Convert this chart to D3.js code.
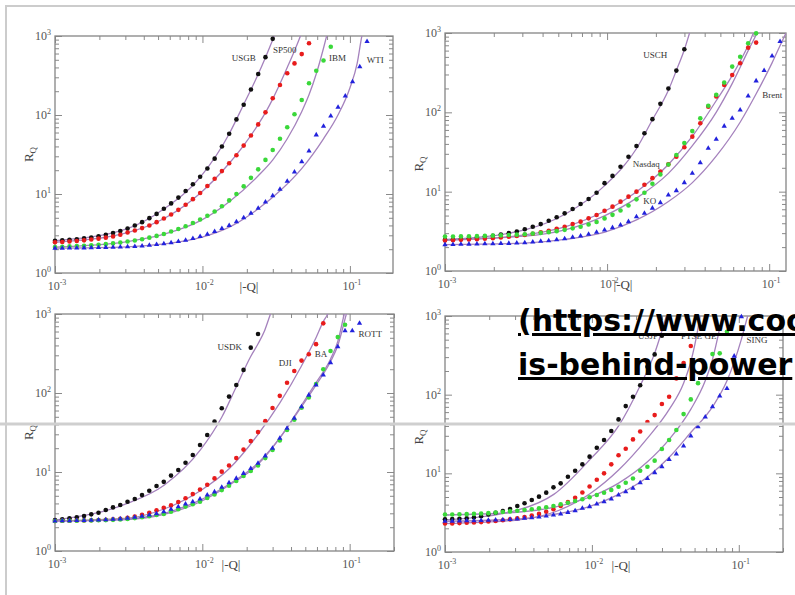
<!DOCTYPE html>
<html>
<head>
<meta charset="utf-8">
<script src="https://cdn.jsdelivr.net/npm/d3@7"></script>
<style>
  body { margin:0; background:#fff; overflow:hidden; }
  svg { display:block; }
</style>
</head>
<body>
<div id="chart"></div>
<script>
// |-Q| grid shared by all series (ratio 1.12 between points)
var xs = [0.001,0.00112,0.001254,0.001405,0.001574,0.001762,0.001974,0.002211,0.002476,0.002773,
  0.003106,0.003479,0.003896,0.004364,0.004887,0.005474,0.00613,0.006866,0.00769,0.008613,
  0.009646,0.0108,0.0121,0.01355,0.01518,0.017,0.01904,0.02132,0.02388,0.02675,
  0.02996,0.03356,0.03758,0.04209,0.04714,0.0528,0.05914,0.06623,0.07418,0.08308,
  0.09305,0.1042,0.1167,0.1307];

// top left
var usgb = [2.56,2.59,2.63,2.68,2.74,2.82,2.92,3.05,3.2,3.4,3.65,4.0,4.4,4.95,5.6,6.5,7.6,9.0,10.9,13.3,16.5,21,28,40,58,88,135,210,330,540,920];
var sp500 = [2.45,2.47,2.5,2.54,2.59,2.65,2.72,2.8,2.9,3.05,3.25,3.45,3.7,4.0,4.4,4.9,5.5,6.3,7.3,8.6,10.3,12.6,15.6,19.5,24.5,31,41,55,76,108,163,240,337,450,590,810];
var ibm = [2.13,2.15,2.17,2.19,2.21,2.24,2.28,2.32,2.37,2.43,2.5,2.58,2.68,2.8,2.95,3.12,3.35,3.6,3.9,4.3,4.75,5.3,6.0,7.0,8.3,10,12.5,16,20.5,27,36,50,70,102,155,252,363,490,730];
var wti = [2.06,2.06,2.07,2.07,2.08,2.09,2.1,2.11,2.12,2.13,2.15,2.17,2.2,2.24,2.29,2.35,2.42,2.5,2.6,2.73,2.9,3.1,3.35,3.65,4.0,4.45,5.0,5.7,6.6,7.9,9.5,11.5,14.5,19,25.6,35,56,72,97,125,174,264,408,850];
// top right
var usch = [2.47,2.5,2.54,2.58,2.63,2.7,2.78,2.88,3.0,3.15,3.36,3.62,3.9,4.3,4.75,5.33,6.05,7.0,8.1,9.7,12.8,15.8,20.6,27.6,37.7,54.5,82,128,200,336,625];
var nasdaq = [2.43,2.45,2.47,2.49,2.52,2.55,2.59,2.64,2.7,2.77,2.85,2.95,3.07,3.22,3.4,3.62,3.92,4.19,4.61,5.08,5.75,6.47,7.48,8.65,10,12.2,14.8,17.9,22.1,27.6,36.3,49.4,73,118,158,221,296,416,654,757];
var ko = [2.72,2.72,2.73,2.74,2.75,2.77,2.79,2.81,2.84,2.87,2.91,2.96,3.02,3.09,3.18,3.3,3.45,3.62,3.85,4.15,4.6,5.1,5.8,6.7,8.0,9.7,12.6,16.5,22,29,41,58,84,121,166,237,377,503,743,990];
var brent = [2.15,2.16,2.17,2.18,2.19,2.2,2.21,2.22,2.23,2.25,2.27,2.32,2.37,2.41,2.48,2.55,2.66,2.76,2.9,3.08,3.29,3.52,3.8,4.19,4.84,5.34,6.2,7.27,9.1,10.3,13,17.1,23.2,35.3,45.8,67,84,107,161,249,336,514,780];
// bottom left
var usdk = [2.47,2.52,2.59,2.67,2.77,2.91,3.05,3.3,3.57,3.82,4.2,4.55,5.1,5.8,6.65,7.5,9.0,10.6,13.1,16.4,22,29.4,43.4,64,90,126,196,375,558];
var dji = [2.4,2.41,2.42,2.43,2.44,2.45,2.47,2.49,2.52,2.56,2.63,2.73,2.87,3.05,3.27,3.52,3.78,4.17,4.65,5.25,6.0,6.9,8.3,10.1,12.1,15,19.2,24.6,32,44,64.6,92,135,190,257,309,415,762];
var ba = [2.4,2.41,2.41,2.42,2.43,2.44,2.45,2.46,2.48,2.5,2.55,2.61,2.68,2.76,2.85,2.95,3.14,3.38,3.65,3.9,4.2,4.7,5.2,5.9,6.7,7.7,8.9,10.3,12.1,15,19,25,34,46,65,88,130,200,340,510,730];
var rott = [2.4,2.41,2.42,2.43,2.44,2.45,2.47,2.49,2.52,2.55,2.59,2.67,2.75,2.86,2.97,3.14,3.37,3.64,3.94,4.2,4.55,5.1,5.6,6.4,7.3,8.3,9.6,11.1,12.9,16,20,26.7,35.7,47.8,67,94,126,169,242,385,615,615,762];
// bottom right
var usjp = [2.6,2.62,2.65,2.69,2.75,2.85,3.0,3.16,3.32,3.52,3.84,4.16,4.58,5.05,5.68,6.63,7.46,9.06,10.8,13,16.3,21.1,26.5,34.5,48.5,71.6,94,132,226,325,560];
var ftse = [2.3,2.31,2.33,2.35,2.37,2.4,2.44,2.48,2.53,2.6,2.68,2.78,2.9,3.05,3.25,3.5,3.85,4.3,4.9,5.7,6.8,8.3,10,13,17,20.5,27,34,45,55,76,94,161,252,415];
var ge = [3.0,3.0,3.01,3.03,3.05,3.08,3.12,3.17,3.22,3.28,3.35,3.42,3.49,3.59,3.7,3.84,4.04,4.23,4.45,4.68,4.96,5.3,5.67,6.14,6.76,7.6,8.6,10.8,12.1,14.5,20.4,26.5,35.5,56.6,87,140,220,328,335,630];
var sing = [2.46,2.47,2.48,2.49,2.5,2.51,2.53,2.55,2.57,2.6,2.63,2.68,2.73,2.78,2.87,2.95,3.04,3.19,3.35,3.59,3.77,4.07,4.36,4.71,5.3,5.83,6.45,7.6,8.6,10.2,12.1,15,17.6,22.2,29.8,39,52,70,96,120,309,980];

// fitted curves, [|-Q|, R_Q]
var usgbFit = [[0.001,2.56],[0.0031,3.65],[0.0055,6.5],[0.0097,16.5],[0.0152,58],[0.019,135],[0.0239,330],[0.0268,540],[0.03,900],[0.0335,1500]];
var sp500Fit = [[0.001,2.45],[0.0031,3.25],[0.0055,4.9],[0.0097,10.3],[0.0152,24.5],[0.019,41],[0.0239,76],[0.0268,108],[0.03,160],[0.0336,250],[0.0376,400],[0.0421,650],[0.0471,1100],[0.05,1500]];
var ibmFit = [[0.001,2.13],[0.0031,2.5],[0.0055,3.1],[0.0097,4.6],[0.0152,8],[0.0239,17],[0.03,27],[0.0376,50],[0.0471,110],[0.0528,180],[0.0591,330],[0.0662,700],[0.072,1300]];
var wtiFit = [[0.001,2.06],[0.0031,2.14],[0.0055,2.33],[0.0097,2.8],[0.0152,3.8],[0.0239,6.5],[0.0336,11],[0.0471,21],[0.0662,50],[0.083,100],[0.1,220],[0.112,450],[0.1205,1000],[0.128,1600]];
var uschFit = [[0.001,2.47],[0.0031,3.3],[0.0055,5.2],[0.0097,12],[0.0152,35],[0.019,80],[0.0239,190],[0.0268,340],[0.03,620],[0.0325,1050]];
var nasdaqFit = [[0.001,2.43],[0.0031,2.85],[0.0055,3.6],[0.0097,5.7],[0.0152,10],[0.0239,22],[0.0336,50],[0.0471,140],[0.0591,290],[0.0742,700],[0.08,1000],[0.085,1300]];
var koFit = [[0.001,2.5],[0.0031,2.75],[0.0055,3.3],[0.0097,5.0],[0.0152,8.3],[0.0239,17],[0.0336,38],[0.0471,100],[0.0591,230],[0.0742,600],[0.085,1050],[0.09,1400]];
var brentFit = [[0.001,2.15],[0.0031,2.25],[0.0055,2.5],[0.0097,3.1],[0.0152,4.4],[0.0239,7.5],[0.0336,13],[0.0471,28],[0.0662,75],[0.083,170],[0.1042,420],[0.117,700],[0.127,1000]];
var usdkFit = [[0.001,2.45],[0.0031,4.0],[0.0055,6.8],[0.0097,19],[0.0136,50],[0.017,120],[0.0213,290],[0.0239,420],[0.0265,620],[0.029,1000],[0.031,1400]];
var djiFit = [[0.001,2.4],[0.0031,2.6],[0.0055,3.4],[0.0097,5.8],[0.0152,11],[0.0239,30],[0.0336,75],[0.0471,220],[0.0591,500],[0.0662,800],[0.071,1000],[0.075,1300]];
var baFit = [[0.001,2.4],[0.0031,2.5],[0.0055,2.9],[0.0097,4.2],[0.0152,6.8],[0.0239,12.5],[0.0336,27],[0.0471,70],[0.0591,135],[0.0742,270],[0.0831,450],[0.092,1000],[0.097,1400]];
var rottFit = [[0.001,2.4],[0.0031,2.55],[0.0055,3.0],[0.0097,4.4],[0.0152,7.0],[0.0239,13],[0.0336,27],[0.0471,67],[0.0591,126],[0.0742,250],[0.0831,400],[0.095,1000],[0.1,1400]];
var usjpFit = [[0.001,2.55],[0.0031,3.4],[0.0055,5.4],[0.0097,15],[0.0152,40],[0.0213,130],[0.0268,340],[0.03,650],[0.0322,1000],[0.035,1500]];
var ftseFit = [[0.001,2.3],[0.0031,2.55],[0.0055,3.2],[0.0097,5.5],[0.0152,11],[0.0239,28],[0.0336,65],[0.0421,140],[0.0471,260],[0.0528,700],[0.055,1100]];
var geFit = [[0.001,2.95],[0.0031,3.2],[0.0055,3.7],[0.0097,5.0],[0.0152,7.5],[0.0239,14],[0.0336,27],[0.0471,65],[0.0591,150],[0.0662,280],[0.0742,700],[0.078,1100]];
var singFit = [[0.001,2.46],[0.0031,2.62],[0.0055,3.0],[0.0097,3.8],[0.0152,5.4],[0.0239,9],[0.0336,16],[0.0471,33],[0.0662,70],[0.0831,150],[0.104,500],[0.115,1000],[0.12,1300]];

var names = [['USGB','SP500','IBM','WTI'],['USCH','Nasdaq','KO','Brent'],['USDK','DJI','BA','ROTT'],['USJP','FTSE','GE','SING']];

var colors = ['#111111','#e81c1c','#3ad83a','#2222dd'];
var fitColor = '#a582bd';

var panels = [
  {x0:55, x1:393, y0:36, y1:273, xmax:0.196, qx:194, rdy:0,
   series:[usgb,sp500,ibm,wti], fits:[usgbFit,sp500Fit,ibmFit,wtiFit],
   nameAt:[[0.0158,483],[0.0301,609],[0.0721,483],[0.130,455]]},
  {x0:445, x1:786, y0:33, y1:271, xmax:0.127, qx:178, rdy:12,
   series:[usch,nasdaq,ko,brent], fits:[uschFit,nasdaqFit,koFit,brentFit],
   nameAt:[[0.0167,485],[0.0144,20.5],[0.0167,7.0],[0.0906,152]]},
  {x0:55, x1:394, y0:314, y1:551, xmax:0.2, qx:176, rdy:0,
   series:[usdk,dji,ba,rott], fits:[usdkFit,djiFit,baFit,rottFit],
   nameAt:[[0.0127,350],[0.033,220],[0.058,286],[0.115,512]]},
  {x0:445, x1:783, y0:316, y1:552, xmax:0.2, qx:176, rdy:3,
   series:[usjp,ftse,ge,sing], fits:[usjpFit,ftseFit,geFit,singFit],
   nameAt:[[0.0206,509],[0.0405,509],[0.0585,509],[0.113,453]]}
];

var svg = d3.select('#chart').append('svg')
  .attr('width',795).attr('height',595);

function isMajor(d){
  var l = Math.log10(d);
  return Math.abs(l - Math.round(l)) < 1e-6;
}

// "10" with a raised exponent
function powLabel(sel, e){
  sel.append('tspan').text('10');
  sel.append('tspan').attr('dy',-5).attr('font-size',8).text(e);
}

panels.forEach(function(p, i){
  var x = d3.scaleLog().domain([0.001, p.xmax]).range([p.x0, p.x1]);
  var y = d3.scaleLog().domain([1, 1000]).range([p.y1, p.y0]);
  var g = svg.append('g');

  svg.append('clipPath').attr('id','clip'+i)
    .append('rect').attr('x',p.x0).attr('y',p.y0)
    .attr('width',p.x1-p.x0).attr('height',p.y1-p.y0);

  // ticks on all four sides, pointing inward
  var tickCol = '#8a8a8a';
  function styleTicks(ax, attr, sign){
    ax.select('.domain').remove();
    ax.selectAll('.tick text').remove();
    ax.selectAll('.tick line').attr('stroke',tickCol).attr('stroke-width',1)
      .attr(attr, function(d){ return sign*(isMajor(d) ? 7 : 4); });
  }
  var xt = x.ticks(), yt = y.ticks();
  g.append('g').attr('transform','translate(0,'+p.y1+')')
    .call(d3.axisBottom(x).tickValues(xt)).call(function(a){ styleTicks(a,'y2',-1); });
  g.append('g').attr('transform','translate(0,'+p.y0+')')
    .call(d3.axisTop(x).tickValues(xt)).call(function(a){ styleTicks(a,'y2',1); });
  g.append('g').attr('transform','translate('+p.x0+',0)')
    .call(d3.axisLeft(y).tickValues(yt)).call(function(a){ styleTicks(a,'x2',1); });
  g.append('g').attr('transform','translate('+p.x1+',0)')
    .call(d3.axisRight(y).tickValues(yt)).call(function(a){ styleTicks(a,'x2',-1); });

  g.append('rect').attr('x',p.x0).attr('y',p.y0)
    .attr('width',p.x1-p.x0).attr('height',p.y1-p.y0)
    .attr('fill','none').attr('stroke','#858585').attr('stroke-width',1.3);

  // tick labels
  var lab = g.append('g').attr('font-family','Liberation Serif, serif')
    .attr('font-size',12).attr('fill','#555');
  [1,10,100,1000].forEach(function(v, k){
    lab.append('text').attr('x',p.x0-4).attr('y',y(v)+4)
      .attr('text-anchor','end').call(powLabel, k);
  });
  [0.001,0.01,0.1].forEach(function(v){
    lab.append('text').attr('x',x(v)+2).attr('y',p.y1+17)
      .attr('text-anchor','middle').call(powLabel, Math.round(Math.log10(v)));
  });
  // axis titles
  var rq = lab.append('text')
    .attr('transform','translate('+(p.x0-22)+','+((p.y0+p.y1)/2+p.rdy)+') rotate(-90)')
    .attr('text-anchor','middle').attr('font-size',13).attr('fill','#444');
  rq.append('tspan').text('R');
  rq.append('tspan').attr('dy',3).attr('font-size',9).text('Q');
  lab.append('text').attr('x',p.x0+p.qx).attr('y',p.y1+18)
    .attr('text-anchor','middle').attr('font-size',13).attr('fill','#444').text('|-Q|');

  // fitted curves
  var line = d3.line().x(function(d){ return x(d[0]); }).y(function(d){ return y(d[1]); })
    .curve(d3.curveMonotoneX);
  g.append('g').attr('clip-path','url(#clip'+i+')')
    .selectAll('path').data(p.fits).enter().append('path')
    .attr('d', line).attr('fill','none')
    .attr('stroke',fitColor).attr('stroke-width',1.3);

  // data points
  p.series.forEach(function(vals, s){
    var pts = g.append('g').selectAll('.pt').data(vals).enter();
    if (s < 3) {
      pts.append('circle')
        .attr('cx',function(d,k){ return x(xs[k]); })
        .attr('cy',function(d){ return y(d); })
        .attr('r',2.3).attr('fill',colors[s]);
    } else {
      pts.append('path')
        .attr('d', d3.symbol().type(d3.symbolTriangle).size(12))
        .attr('transform',function(d,k){ return 'translate('+x(xs[k])+','+y(d)+')'; })
        .attr('fill',colors[s]);
    }
  });

  // series names
  g.append('g').attr('font-family','Liberation Serif, serif').attr('font-size',9)
    .attr('fill','#333')
    .selectAll('text').data(p.nameAt).enter().append('text')
    .attr('x',function(d){ return x(d[0]); })
    .attr('y',function(d){ return y(d[1]); })
    .text(function(d,k){ return names[i][k]; });
});

// page frame lines
svg.append('line').attr('x1',5).attr('x2',795).attr('y1',6).attr('y2',6)
  .attr('stroke','#cccccc').attr('stroke-width',2);
svg.append('line').attr('x1',6).attr('x2',6).attr('y1',5).attr('y2',595)
  .attr('stroke','#cccccc').attr('stroke-width',2);
svg.append('line').attr('x1',0).attr('x2',795).attr('y1',424).attr('y2',424)
  .attr('stroke','#cfcfcf').attr('stroke-width',3);

// link text on top
var link = svg.append('g').attr('font-family','DejaVu Sans, sans-serif')
  .attr('font-weight','bold').attr('font-size',30).attr('fill','#000')
  .attr('text-decoration','underline');
link.append('text').attr('x',518).attr('y',331).text('(https://www.coo');
link.append('text').attr('x',518).attr('y',375).text('is-behind-power');
</script>
</body>
</html>
